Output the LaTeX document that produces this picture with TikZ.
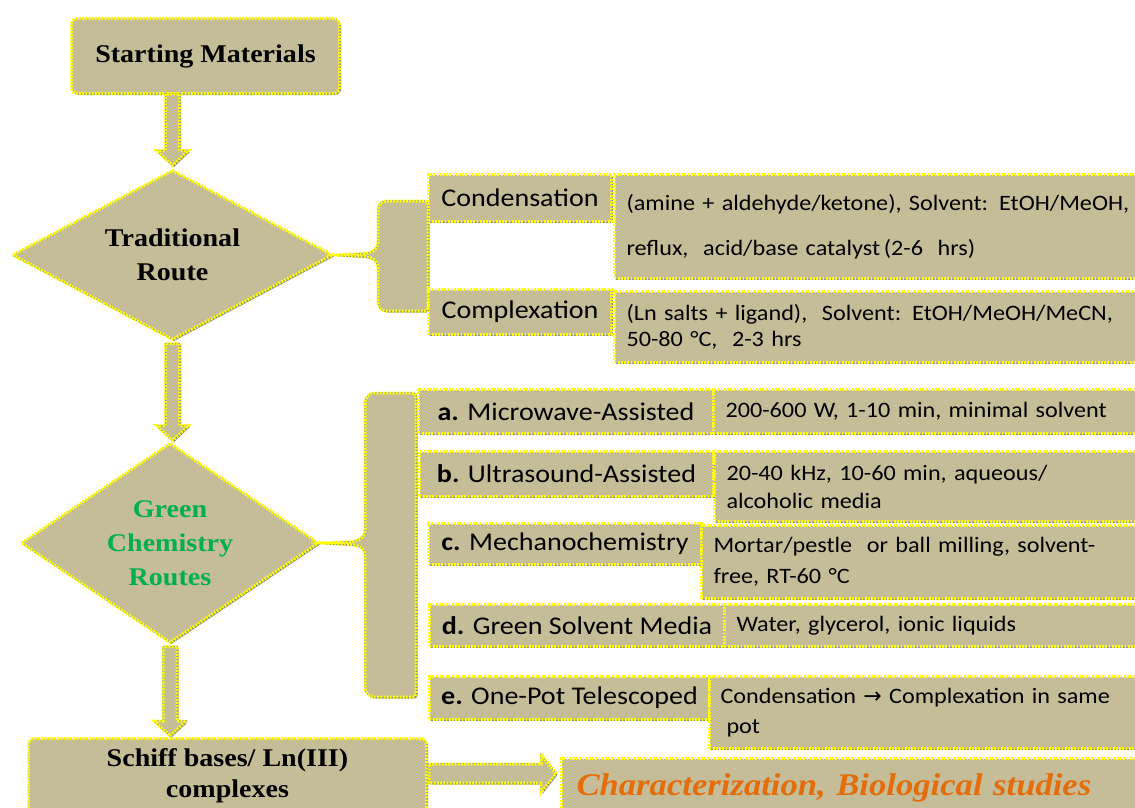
\documentclass[tikz,border=0pt]{standalone}
\usepackage{fontspec}
\newfontfamily\tnr[FakeStretch=1.1]{Liberation Serif}
\newfontfamily\calib[FakeStretch=1.1]{Carlito}
\newfontfamily\djv{DejaVu Sans}
\usetikzlibrary{shapes.geometric,shadows,calc}
\definecolor{tanfill}{HTML}{C4BD97}
\definecolor{edgedark}{HTML}{8A845E}
\definecolor{ylw}{HTML}{FFFF00}
\definecolor{grn}{HTML}{00B050}
\definecolor{org}{HTML}{E46C0A}
\tikzset{
  shad/.style={drop shadow={shadow xshift=1.5pt,shadow yshift=-1.5pt,opacity=0.45,fill=black}},
  dotb/.style={preaction={draw=edgedark,line width=1.2pt},draw=ylw,line width=3pt,dash pattern=on 1.8pt off 1.4pt,line cap=butt},
  box/.style={shad,dotb,fill=tanfill,inner sep=0pt,anchor=north west,text=black},
  lab/.style={box,font=\calib\fontsize{25.5}{30}\selectfont,align=center},
  desc/.style={box,font=\calib\fontsize{22}{28}\selectfont,align=left,inner xsep=12pt},
  headbox/.style={box,rounded corners=6pt,font=\tnr\bfseries\fontsize{25.5}{31}\selectfont,align=center},
  diam/.style={shad,dotb,fill=tanfill,diamond,inner sep=0pt,font=\tnr\bfseries\fontsize{25.5}{34}\selectfont,align=center},
  blk/.style={shad,dotb,fill=tanfill,line join=miter},
}
\newcommand\vblock[2]{%
  \path[blk] ($(#1)+(-7,0)$) -- ($(#2)+(-7,-15)$) -- ($(#2)+(-16,-15)$) -- (#2) -- ($(#2)+(16,-15)$) -- ($(#2)+(7,-15)$) -- ($(#1)+(7,0)$) -- cycle;}
\newcommand\hblock[2]{%
  \path[blk] ($(#1)+(0,-9.5)$) -- ($(#2)+(-15,-9.5)$) -- ($(#2)+(-15,-19)$) -- (#2) -- ($(#2)+(-15,19)$) -- ($(#2)+(-15,9.5)$) -- ($(#1)+(0,9.5)$) -- cycle;}
\begin{document}
\begin{tikzpicture}[x=1pt,y=-1pt]
\useasboundingbox (0,0) rectangle (1135,808);
\clip (0,0) rectangle (1135,808);
\fill[white] (0,0) rectangle (1135,808);

% main column
\node[headbox,minimum width=268pt,minimum height=75pt] (start) at (70,17) {Starting Materials};
\node[diam,aspect=1.9,minimum width=321pt,minimum height=170pt] (trad) at (172.5,255) {Traditional\\Route};
\node[diam,aspect=1.5,minimum width=298pt,minimum height=200pt,text=grn] (green) at (170,543) {Green\\Chemistry\\Routes};
\node[headbox,minimum width=398pt,minimum height=74pt] (schiff) at (27,737) {Schiff bases/ Ln(III)\\complexes};
\node[box,minimum width=600pt,minimum height=58pt,text width=570pt,inner xsep=15pt,align=left,font=\tnr\bfseries\itshape\fontsize{31.5}{36}\selectfont,text=org] (char) at (560,757) {Characterization, Biological studies};

% braces
\path[blk,rounded corners=3pt] (trad.east) -- (366,253.5) -- (374,251) -- (378,245) -- (378,206) -- (383,201) -- (428,201) -- (428,311) -- (383,311) -- (378,306) -- (378,265) -- (374,259) -- (366,256.5) -- cycle;
\path[blk,rounded corners=3pt] (green.east) -- (353,541.5) -- (361,539) -- (365,533) -- (365,399) -- (371,393) -- (416,393) -- (416,697) -- (371,697) -- (365,691) -- (365,553) -- (361,547) -- (353,544.5) -- cycle;

% traditional branch
\node[lab,minimum width=183pt,minimum height=47pt] (cond) at (427,173) {Condensation};
\node[desc,minimum height=104pt,text width=523pt] (condd) at (613,173) {(amine + aldehyde/ketone), Solvent: EtOH/MeOH,\\[17pt]reflux,\ \ acid/base catalyst\,(2-6\ \ hrs)};
\node[lab,minimum width=183pt,minimum height=45pt] (comp) at (427,288) {Complexation};
\node[desc,minimum height=71pt,text width=523pt,font=\calib\fontsize{22}{26}\selectfont] (compd) at (613,290) {(Ln salts + ligand),\ \ Solvent: EtOH/MeOH/MeCN,\\50-80 °C,\ \ 2-3 hrs};

% green branch
\node[lab,minimum width=295pt,minimum height=44pt] (ma) at (417,388) {\textbf{a.} Microwave-Assisted};
\node[desc,minimum height=44pt,text width=424pt] (mad) at (712,388) {200-600 W, 1-10 min, minimal solvent};
\node[lab,minimum width=294pt,minimum height=45pt] (mb) at (418,450) {\textbf{b.} Ultrasound-Assisted};
\node[desc,minimum height=70pt,text width=423pt] (mbd) at (713,450) {20-40 kHz, 10-60 min, aqueous/\\alcoholic media};
\node[lab,minimum width=273pt,minimum height=41pt] (mc) at (427,522) {\textbf{c.} Mechanochemistry};
\node[desc,minimum height=73pt,text width=436pt,font=\calib\fontsize{22}{31}\selectfont] (mcd) at (700,524) {Mortar/pestle\ \ or ball milling, solvent-\\free, RT-60 °C};
\node[lab,minimum width=295pt,minimum height=42pt] (md) at (428,603) {\textbf{d.} Green Solvent Media};
\node[desc,minimum height=42pt,text width=413pt] (mdd) at (723,603) {Water, glycerol, ionic liquids};
\node[lab,minimum width=280pt,minimum height=43pt] (me) at (428,675) {\textbf{e.} One-Pot Telescoped};
\node[desc,minimum height=72pt,text width=430pt,inner xsep=11pt,font=\calib\fontsize{22}{30}\selectfont] (med) at (708,675) {Condensation {\djv\fontsize{22}{20}\selectfont →} Complexation in same\\\hspace*{6pt}pot};

% block arrows
\coordinate (a1s) at ($(start.south -| trad.north)+(0,-1)$);
\coordinate (a1e) at ($(trad.north)+(0,-3)$);
\vblock{a1s}{a1e}
\coordinate (a2s) at ($(trad.south)+(0,2)$);
\coordinate (a2e) at ($(trad.south |- green.north)+(0,-1)$);
\vblock{a2s}{a2e}
\coordinate (a3s) at ($(green.south)+(0,2)$);
\coordinate (a3e) at ($(green.south |- schiff.north)+(0,-1)$);
\vblock{a3s}{a3e}
\coordinate (a4s) at ($(schiff.east)+(1,-2)$);
\coordinate (a4e) at ($(schiff.east -| char.west)+(-4,-2)$);
\hblock{a4s}{a4e}
\end{tikzpicture}
\end{document}
